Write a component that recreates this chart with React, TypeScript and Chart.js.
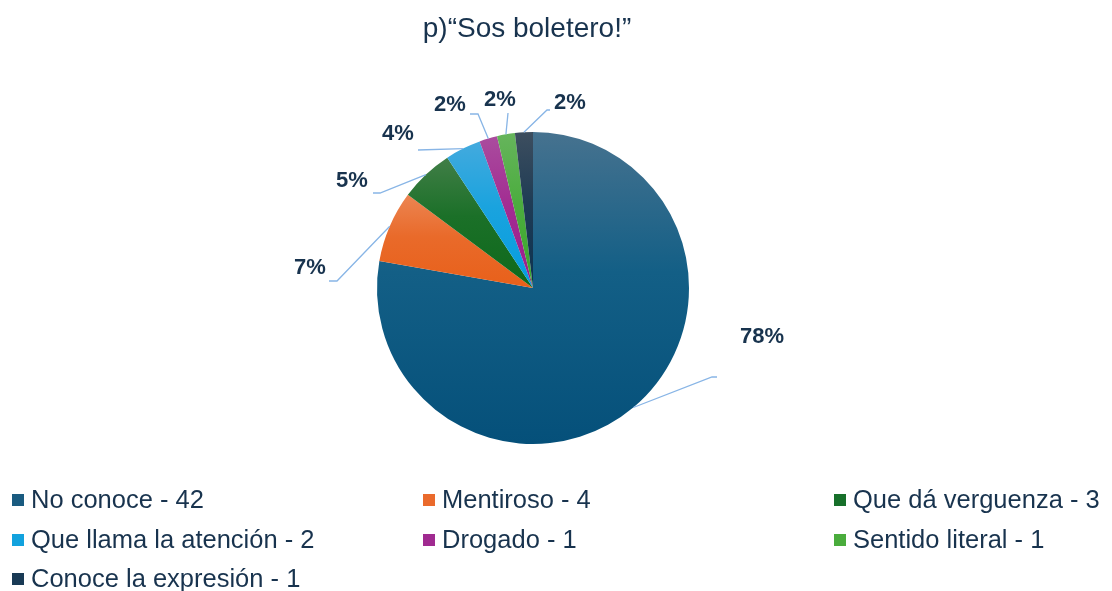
import React, { useEffect, useRef } from "react";
import { Chart, registerables } from "chart.js";

Chart.register(...registerables);

// ---- data ----
const TITLE = "p)\u201CSos boletero!\u201D";
const categories = [
  "No conoce",
  "Mentiroso",
  "Que dá verguenza",
  "Que llama la atención",
  "Drogado",
  "Sentido literal",
  "Conoce la expresión",
];
const counts = [42, 4, 3, 2, 1, 1, 1];
const percentLabels = ["78%", "7%", "5%", "4%", "2%", "2%", "2%"];

// ---- styles ----
const topColors = ["#46728f", "#ec8552", "#417e47", "#43aade", "#aa4c9e", "#66b45c", "#3d4e5f"];
const midColors = ["#135f86", "#e96a2a", "#1b7028", "#1aa3de", "#a22d92", "#4cad3f", "#1f3c55"];
const bottomColors = ["#05507a", "#e8601a", "#0e691b", "#049de0", "#9b1b8b", "#3aa72a", "#0c3250"];
const legendColors = ["#1a5b80", "#ea6a2c", "#17702a", "#12a2de", "#a02a90", "#4aac3c", "#193a55"];
const TEXT_COLOR = "#18334e";
const LINE_COLOR = "#88b5e6";
const FONT = "'Liberation Sans', Arial, sans-serif";

// label layout: offsets from pie centre [elbowX, elbowY, endX, endY, textX, textY]
const labelLayout = [
  [179, 89, 184, 89, 229, 49],
  [-196, -7, -204, -7, -223, -20],
  [-153, -95, -160, -95, -181, -107],
  [-115, -138, -115, -138, -135, -154],
  [-55, -174, -63, -174, -83, -183],
  [-25, -175, -25, -175, -33, -188],
  [14, -178, 17, -178, 37, -185],
];
// legend layout
const legendCols = [12, 423, 834];
const legendRows = [508, 548, 587];

function pieGeom(chart: any) {
  const a = chart.chartArea;
  const cx = (a.left + a.right) / 2;
  const cy = (a.top + a.bottom) / 2;
  const r = Math.min(a.right - a.left, a.bottom - a.top) / 2;
  return { cx, cy, r };
}

function sliceAngles(i: number) {
  const total = counts.reduce((s, v) => s + v, 0);
  const before = counts.slice(0, i).reduce((s, v) => s + v, 0);
  const start = (before / total) * Math.PI * 2;
  const end = ((before + counts[i]) / total) * Math.PI * 2;
  return { start, end };
}

function sliceFill(ctx: any) {
  const chart = ctx.chart;
  const i = ctx.dataIndex;
  if (!chart.chartArea || i === undefined) return legendColors[i ?? 0];
  const { cx, cy, r } = pieGeom(chart);
  const { start, end } = sliceAngles(i);
  const ys = [cy, cy - r * Math.cos(start), cy - r * Math.cos(end)];
  if (start < 1e-9 || end > Math.PI * 2 - 1e-9) ys.push(cy - r);
  if (start <= Math.PI && end >= Math.PI) ys.push(cy + r);
  const y0 = Math.min(...ys);
  const y1 = Math.max(...ys);
  const g = chart.ctx.createLinearGradient(0, y0, 0, y1 + 0.01);
  g.addColorStop(0, topColors[i]);
  g.addColorStop(0.45, midColors[i]);
  g.addColorStop(1, bottomColors[i]);
  return g;
}

const decorPlugin = {
  id: "decor",
  afterDraw(chart: any) {
    const c = chart.ctx;
    const { cx, cy, r } = pieGeom(chart);
    c.save();
    // title
    c.fillStyle = TEXT_COLOR;
    c.font = `28px ${FONT}`;
    c.textAlign = "center";
    c.textBaseline = "alphabetic";
    c.fillText(TITLE, 527, 37);

    // leader lines + percent labels
    const meta = chart.getDatasetMeta(0);
    meta.data.forEach((arc: any, i: number) => {
      const mid = (arc.startAngle + arc.endAngle) / 2;
      const sx = cx + Math.cos(mid) * r;
      const sy = cy + Math.sin(mid) * r;
      const L = labelLayout[i];
      c.strokeStyle = LINE_COLOR;
      c.lineWidth = 1.3;
      c.beginPath();
      c.moveTo(sx, sy);
      c.lineTo(cx + L[0], cy + L[1]);
      c.lineTo(cx + L[2], cy + L[3]);
      c.stroke();
      c.fillStyle = TEXT_COLOR;
      c.font = `bold 22px ${FONT}`;
      c.textAlign = "center";
      c.textBaseline = "middle";
      c.fillText(percentLabels[i], cx + L[4], cy + L[5]);
    });

    // legend
    c.font = `25.5px ${FONT}`;
    c.textAlign = "left";
    c.textBaseline = "alphabetic";
    categories.forEach((cat, i) => {
      const col = legendCols[i % 3];
      const row = legendRows[Math.floor(i / 3)];
      c.fillStyle = legendColors[i];
      c.fillRect(col, row - 14, 12, 12);
      c.fillStyle = TEXT_COLOR;
      c.fillText(`${cat} - ${counts[i]}`, col + 19, row);
    });
    c.restore();
  },
};

export default function App() {
  const ref = useRef<HTMLCanvasElement | null>(null);
  useEffect(() => {
    document.body.style.margin = "0";
    const canvas = ref.current;
    if (!canvas) return;
    const chart = new Chart(canvas, {
      type: "pie",
      data: {
        labels: categories,
        datasets: [
          {
            data: counts,
            backgroundColor: sliceFill as any,
            borderWidth: 0,
          },
        ],
      },
      options: {
        responsive: false,
        animation: false,
        layout: { padding: { top: 132, bottom: 147, left: 333, right: 379 } },
        plugins: {
          legend: { display: false },
          title: { display: false },
          tooltip: { enabled: false },
        },
      },
      plugins: [decorPlugin],
    });
    return () => chart.destroy();
  }, []);
  return (
    <div style={{ width: 1112, height: 591, background: "#ffffff" }}>
      <canvas ref={ref} width={1112} height={591} style={{ display: "block" }} />
    </div>
  );
}
